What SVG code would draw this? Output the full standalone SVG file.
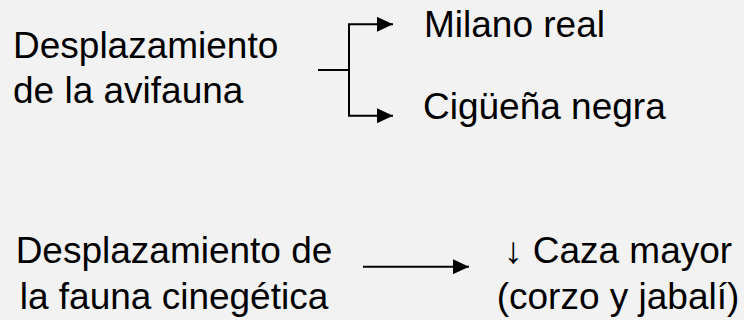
<svg xmlns="http://www.w3.org/2000/svg" width="744" height="320" viewBox="0 0 744 320">
<style>
text{font-family:"Liberation Sans",Arial,sans-serif;font-size:37px;fill:#000}
.c{stroke:#000;stroke-width:2;fill:none}
</style>
<defs>
<marker id="ah" markerWidth="16" markerHeight="15" refX="16" refY="7.5" orient="auto" markerUnits="userSpaceOnUse">
<path d="M0,0 L16,7.5 L0,15 Z" fill="#000"/>
</marker>
</defs>
<rect width="744" height="320" fill="#f2f2f2"/>
<g id="connectors">
<path class="c" d="M318,70 H349"/>
<path class="c" d="M349,24.3 V115.7"/>
<path class="c" d="M348,24.3 H393" marker-end="url(#ah)"/>
<path class="c" d="M348,115.7 H393" marker-end="url(#ah)"/>
<path class="c" d="M363,266.7 H469" marker-end="url(#ah)"/>
</g>
<g id="avifauna"><text x="13" y="58.3">Desplazamiento</text><text x="13" y="103.3">de la avifauna</text></g>
<g id="milano"><text x="424" y="37.3">Milano real</text></g>
<g id="ciguena"><text x="423" y="119">Cigüeña negra</text></g>
<g id="cinegetica"><text x="174" y="263.3" text-anchor="middle">Desplazamiento de</text><text x="174" y="308.5" text-anchor="middle">la fauna cinegética</text></g>
<g id="caza"><text x="618" y="263.3" text-anchor="middle">↓ Caza mayor</text><text x="618" y="308.5" text-anchor="middle">(corzo y jabalí)</text></g>
</svg>
